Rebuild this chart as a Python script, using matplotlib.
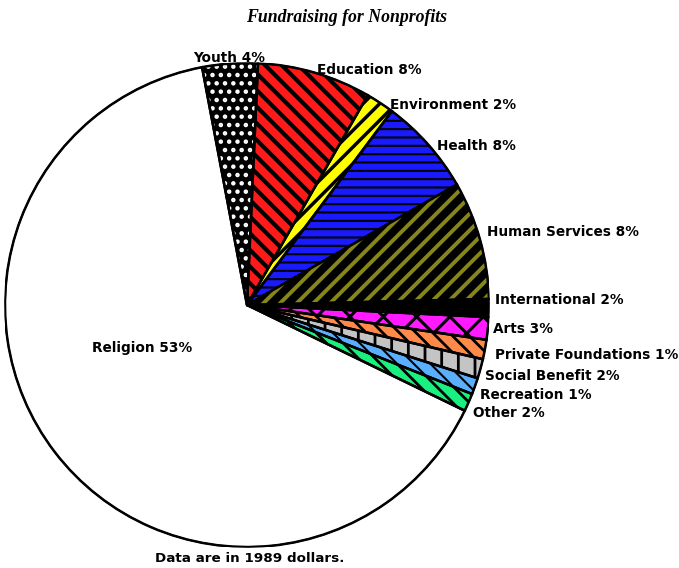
import matplotlib
matplotlib.use("Agg")
import matplotlib.pyplot as plt
from matplotlib.patches import Wedge

# slices in clockwise order, starting at the top-left edge of "Youth"
categories = ["Youth", "Education", "Environment", "Health", "Human Services",
              "International", "Arts", "Private Foundations", "Social Benefit",
              "Recreation", "Other", "Religion"]
# size of each wedge as drawn in the picture (% of the circle)
shares = [3.7, 7.6, 1.9, 6.5, 7.9, 1.2, 1.5, 1.3, 1.3, 1.1, 1.2, 64.9]
# percentages printed on the labels
label_pct = [4, 8, 2, 8, 8, 2, 3, 1, 2, 1, 2, 53]

title = "Fundraising for Nonprofits"
footnote = "Data are in 1989 dollars."

# fill, hatch pattern, hatch colour, hatch line width
styles = {
    "Youth": ("black", "..", "white", 2.0),
    "Education": ("#ff1a1a", "\\\\", "black", 3.0),
    "Environment": ("#ffff00", "//", "black", 2.5),
    "Health": ("#1a1aff", "--", "black", 1.5),
    "Human Services": ("black", "//", "#86861a", 2.8),
    "International": ("black", "", "black", 1.0),
    "Arts": ("#ff1aff", "x", "black", 2.2),
    "Private Foundations": ("#ff8a4a", "\\\\", "black", 2.0),
    "Social Benefit": ("#c4c4c4", "|", "black", 2.0),
    "Recreation": ("#5ab0ff", "\\\\", "black", 1.5),
    "Other": ("#1af080", "\\\\", "black", 2.0),
    "Religion": ("white", "", "black", 1.0),
}

# label anchor (left edge, vertical centre) in pixels from the top-left
label_pos = {
    "Youth": (193, 58), "Education": (317, 70), "Environment": (390, 105),
    "Health": (437, 146), "Human Services": (487, 232), "International": (495, 300),
    "Arts": (493, 329), "Private Foundations": (495, 355), "Social Benefit": (485, 376),
    "Recreation": (480, 395), "Other": (473, 413), "Religion": (92, 348),
}

W, H = 679, 568
fig = plt.figure(figsize=(W / 100, H / 100), dpi=100)
fig.patch.set_facecolor("white")

cx, cy, R = 247, 305, 242
ax = fig.add_axes([(cx - R) / W, (H - cy - R) / H, 2 * R / W, 2 * R / H])

wedges, _ = ax.pie(shares, startangle=100.7, counterclock=False, radius=1,
                   colors=[styles[c][0] for c in categories],
                   wedgeprops=dict(edgecolor="black", linewidth=1.2))

# hatch overlay and outline for every wedge
for w, cat in zip(wedges, categories):
    face, hatch, hcol, hlw = styles[cat]
    if hatch:
        hw = Wedge(w.center, w.r, w.theta1, w.theta2, facecolor="none",
                   edgecolor=hcol, hatch=hatch, linewidth=0)
        if hasattr(hw, "set_hatch_linewidth"):
            hw.set_hatch_linewidth(hlw)
        ax.add_patch(hw)
    ax.add_patch(Wedge(w.center, w.r, w.theta1, w.theta2, fill=False,
                       edgecolor="black", linewidth=1.8))

ax.set_xlim(-1, 1)
ax.set_ylim(-1, 1)
ax.axis("off")

for cat, pct in zip(categories, label_pct):
    x, y = label_pos[cat]
    fig.text(x / W, 1 - y / H, f"{cat} {pct}%", ha="left", va="center",
             fontsize=9.8, fontweight="bold", family="DejaVu Sans")

fig.text(347 / W, 1 - 17 / H, title, ha="center", va="center", fontsize=12.8,
         fontweight="bold", fontstyle="italic", family="Liberation Serif")
fig.text(155 / W, 1 - 558 / H, footnote, ha="left", va="center",
         fontsize=9.7, fontweight="bold", family="DejaVu Sans")

fig.savefig("out.png", dpi=100)
